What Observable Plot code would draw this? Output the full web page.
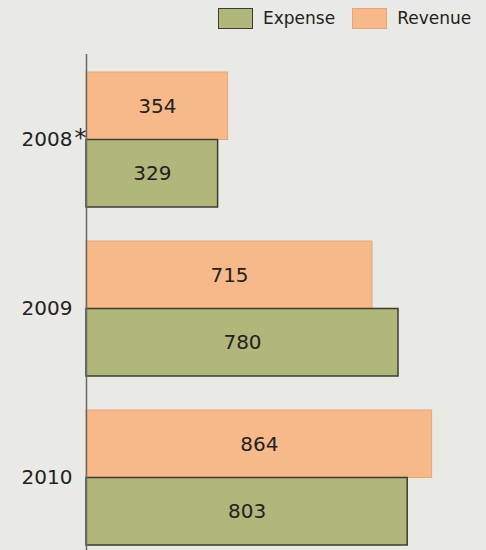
<!DOCTYPE html>
<html>
<head>
<meta charset="utf-8">
<script src="https://cdn.jsdelivr.net/npm/d3@7"></script>
<script src="https://cdn.jsdelivr.net/npm/@observablehq/plot@0.6"></script>
<style>
  html, body { margin: 0; padding: 0; background: #e9e9e5; overflow: hidden; }
  #wrap { position: relative; width: 486px; height: 550px; font-family: "DejaVu Sans", sans-serif; }
  #legend { position: absolute; top: 8px; left: 218px; display: flex; align-items: center; font-size: 17px; color: #222; }
  #legend .sw { width: 33px; height: 19px; border: 1px solid; }
  #legend .lab { margin-left: 10px; margin-right: 17px; line-height: 21px; }
  #legend .lab:last-child { margin-right: 0; }
  svg { display: block; }
</style>
</head>
<body>
<div id="wrap">
  <div id="legend"></div>
  <div id="chart"></div>
</div>
<script>
const years = ["2008", "2009", "2010"];
const footnoteYears = ["2008"];
const revenue = [354, 715, 864];
const expense = [329, 780, 803];
const seriesNames = ["Expense", "Revenue"];
const seriesFill = ["#b1b67b", "#f8b98a"];
const seriesStroke = ["#3d3d30", "#e7a678"];

const revData = years.map((y, i) => ({year: y, value: revenue[i]}));
const expData = years.map((y, i) => ({year: y, value: expense[i]}));

// legend
const legend = document.getElementById("legend");
seriesNames.forEach((name, i) => {
  const sw = document.createElement("div");
  sw.className = "sw";
  sw.style.background = seriesFill[i];
  sw.style.borderColor = seriesStroke[i];
  const lab = document.createElement("div");
  lab.className = "lab";
  lab.textContent = name;
  legend.appendChild(sw);
  legend.appendChild(lab);
});

const half = 67.5;

const chart = Plot.plot({
  width: 486,
  height: 550,
  marginTop: 54,
  marginBottom: 0,
  marginLeft: 86,
  marginRight: 0,
  style: {background: "transparent", fontFamily: "DejaVu Sans, sans-serif", color: "#222"},
  x: {domain: [0, 1000], axis: null},
  y: {domain: years, paddingInner: 34 / 169, paddingOuter: 0.0651, align: 0.78},
  marks: [
    Plot.barX(revData, {y: "year", x: "value", fill: seriesFill[1], stroke: seriesStroke[1], strokeWidth: 1, insetBottom: half}),
    Plot.barX(expData, {y: "year", x: "value", fill: seriesFill[0], stroke: seriesStroke[0], strokeWidth: 1.5, insetTop: half}),
    Plot.text(revData, {y: "year", x: d => d.value / 2, text: d => String(d.value), dy: -half / 2, fontSize: 20, fill: "#222"}),
    Plot.text(expData, {y: "year", x: d => d.value / 2, text: d => String(d.value), dy: half / 2, fontSize: 20, fill: "#222"}),
    Plot.ruleX([0], {stroke: "#6a6a6a", strokeWidth: 1.5}),
    Plot.axisY({tickSize: 0, tickPadding: 14, fontSize: 20, label: null, fill: "#222"}),
    Plot.text(footnoteYears, {y: d => d, text: () => "*", frameAnchor: "left", textAnchor: "start", dx: -12, dy: -2, fontSize: 24, fill: "#222"})
  ]
});
document.getElementById("chart").appendChild(chart);
</script>
</body>
</html>
